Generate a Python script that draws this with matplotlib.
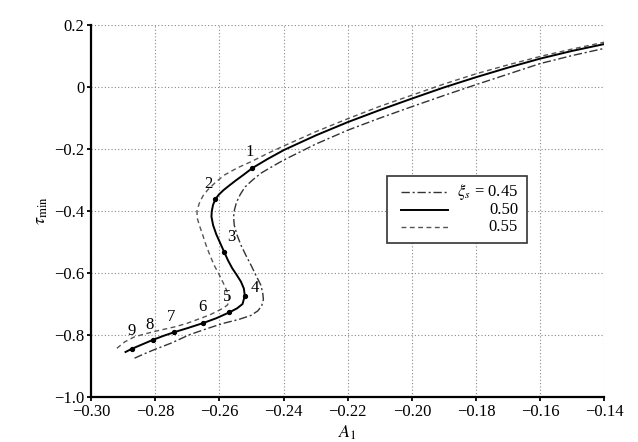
import matplotlib
matplotlib.use("Agg")
import matplotlib.pyplot as plt
from matplotlib.patches import Rectangle

plt.rcParams['font.family'] = ['Liberation Serif', 'DejaVu Serif']
plt.rcParams['mathtext.fontset'] = 'stix'

# xi_s = 0.50 (solid), bottom-left to top-right
a1_050 = [-0.2893, -0.2874, -0.2840, -0.2808, -0.2775, -0.2741, -0.2700, -0.2652,
          -0.2610, -0.2569, -0.2545, -0.2528, -0.2521, -0.2524, -0.2533, -0.2547,
          -0.2560, -0.2573, -0.2585, -0.2597, -0.2610, -0.2620, -0.2625, -0.2624,
          -0.2620, -0.2613, -0.2602, -0.2588, -0.2570, -0.2550, -0.2525, -0.2497,
          -0.2450, -0.2399, -0.2300, -0.2200, -0.2100, -0.2000, -0.1900, -0.1800,
          -0.1700, -0.1600, -0.1500, -0.1400]
tau_050 = [-0.855, -0.845, -0.830, -0.816, -0.803, -0.791, -0.778, -0.762,
           -0.746, -0.727, -0.714, -0.700, -0.673, -0.650, -0.628, -0.605,
           -0.585, -0.560, -0.533, -0.505, -0.475, -0.445, -0.418, -0.400,
           -0.380, -0.362, -0.347, -0.333, -0.318, -0.302, -0.283, -0.261,
           -0.232, -0.203, -0.156, -0.113, -0.074, -0.037, -0.001, 0.032,
           0.063, 0.092, 0.117, 0.139]

# xi_s = 0.55 (dashed)
a1_055 = [-0.2920, -0.2895, -0.2865, -0.2830, -0.2800, -0.2736, -0.2700, -0.2658,
          -0.2630, -0.2606, -0.2585, -0.2575, -0.2570, -0.2570, -0.2577, -0.2585,
          -0.2600, -0.2617, -0.2630, -0.2642, -0.2652, -0.2663, -0.2670, -0.2670,
          -0.2663, -0.2652, -0.2637, -0.2612, -0.2585, -0.2545, -0.2502, -0.2450,
          -0.2400, -0.2300, -0.2200, -0.2100, -0.2000, -0.1900, -0.1800, -0.1700,
          -0.1600, -0.1500, -0.1400]
tau_055 = [-0.843, -0.822, -0.806, -0.796, -0.788, -0.773, -0.762, -0.746,
           -0.735, -0.723, -0.711, -0.703, -0.690, -0.676, -0.658, -0.639,
           -0.607, -0.574, -0.542, -0.510, -0.478, -0.445, -0.420, -0.399,
           -0.375, -0.352, -0.332, -0.307, -0.284, -0.261, -0.241, -0.214,
           -0.190, -0.144, -0.102, -0.062, -0.026, 0.010, 0.043, 0.072,
           0.099, 0.123, 0.145]

# xi_s = 0.45 (dash-dot)
a1_045 = [-0.2865, -0.2835, -0.2800, -0.2750, -0.2693, -0.2640, -0.2590, -0.2540,
          -0.2502, -0.2480, -0.2468, -0.2463, -0.2465, -0.2471, -0.2487, -0.2502,
          -0.2518, -0.2533, -0.2545, -0.2554, -0.2556, -0.2553, -0.2547, -0.2535,
          -0.2520, -0.2497, -0.2471, -0.2435, -0.2399, -0.2300, -0.2200, -0.2100,
          -0.2000, -0.1900, -0.1800, -0.1700, -0.1600, -0.1500, -0.1400]
tau_045 = [-0.875, -0.861, -0.846, -0.826, -0.799, -0.780, -0.763, -0.750,
           -0.737, -0.722, -0.705, -0.685, -0.665, -0.639, -0.606, -0.574,
           -0.542, -0.510, -0.478, -0.445, -0.418, -0.395, -0.372, -0.346,
           -0.322, -0.300, -0.278, -0.256, -0.235, -0.184, -0.139, -0.100,
           -0.063, -0.027, 0.008, 0.042, 0.076, 0.102, 0.125]

# numbered points on the solid curve
pt_labels = ['1', '2', '3', '4', '5', '6', '7', '8', '9']
pt_a1 = [-0.2497, -0.2613, -0.2585, -0.2521, -0.2569, -0.2652, -0.2741, -0.2808, -0.2874]
pt_tau = [-0.261, -0.362, -0.533, -0.673, -0.727, -0.762, -0.791, -0.816, -0.845]
pt_offsets = [(-2, 6), (-5, 5), (5, 5), (7, 0), (-2, 5), (0, 6), (-2, 5), (-2, 5), (0, 7)]

xticks = [-0.30, -0.28, -0.26, -0.24, -0.22, -0.20, -0.18, -0.16, -0.14]
xtick_labels = ['\u22120.30', '\u22120.28', '\u22120.26', '\u22120.24', '\u22120.22',
                '\u22120.20', '\u22120.18', '\u22120.16', '\u22120.14']
yticks = [-1.0, -0.8, -0.6, -0.4, -0.2, 0.0, 0.2]
ytick_labels = ['\u22121.0', '\u22120.8', '\u22120.6', '\u22120.4', '\u22120.2', '0', '0.2']

legend_labels = [r'$\xi_s$ = 0.45', '0.50', '0.55']

fig = plt.figure(figsize=(6.38, 4.42), dpi=100)
ax = fig.add_axes([0.143, 0.102, 0.804, 0.841])

ls_045 = dict(color='#333333', lw=1.0, linestyle=(0, (6, 2, 1.5, 2)))
ls_050 = dict(color='black', lw=1.4, linestyle='-')
ls_055 = dict(color='#555555', lw=1.0, linestyle=(0, (3.5, 2.5)))

ax.plot(a1_045, tau_045, **ls_045)
ax.plot(a1_055, tau_055, **ls_055)
ax.plot(a1_050, tau_050, **ls_050)
ax.plot(pt_a1, pt_tau, 'o', color='black', ms=2.8)
for lab, x, y, off in zip(pt_labels, pt_a1, pt_tau, pt_offsets):
    ax.annotate(lab, (x, y), textcoords='offset points', xytext=off,
                ha='center', va='bottom', fontsize=12)

ax.set_xlim(-0.30, -0.14)
ax.set_ylim(-1.0, 0.2)
ax.set_xticks(xticks)
ax.set_xticklabels(xtick_labels)
ax.set_yticks(yticks)
ax.set_yticklabels(ytick_labels)
ax.tick_params(labelsize=12, direction='out', length=3, width=1.3, pad=2)
ax.grid(True, linestyle=(0, (1, 2)), color='#888888', lw=0.8)
ax.set_axisbelow(True)
for s in ['top', 'right']:
    ax.spines[s].set_visible(False)
for s in ['left', 'bottom']:
    ax.spines[s].set_linewidth(1.6)

ax.set_xlabel(r'$A_1$', fontsize=13, labelpad=3)
ax.set_ylabel(r'$\tau_{\rm min}$', fontsize=13, labelpad=3)

# legend drawn by hand so the numbers line up on the right
ax.add_patch(Rectangle((0.577, 0.414), 0.273, 0.18, transform=ax.transAxes,
                       facecolor='white', edgecolor='#333333', lw=1.2, zorder=5))
row_y = [0.551, 0.503, 0.457]
for lab, y, st in zip(legend_labels, row_y, [ls_045, ls_050, ls_055]):
    ax.plot([0.603, 0.696], [y, y], transform=ax.transAxes, zorder=6, **st)
    ax.text(0.832, y, lab, transform=ax.transAxes, ha='right', va='center',
            fontsize=12, zorder=6)

fig.savefig('out.png', dpi=100)
